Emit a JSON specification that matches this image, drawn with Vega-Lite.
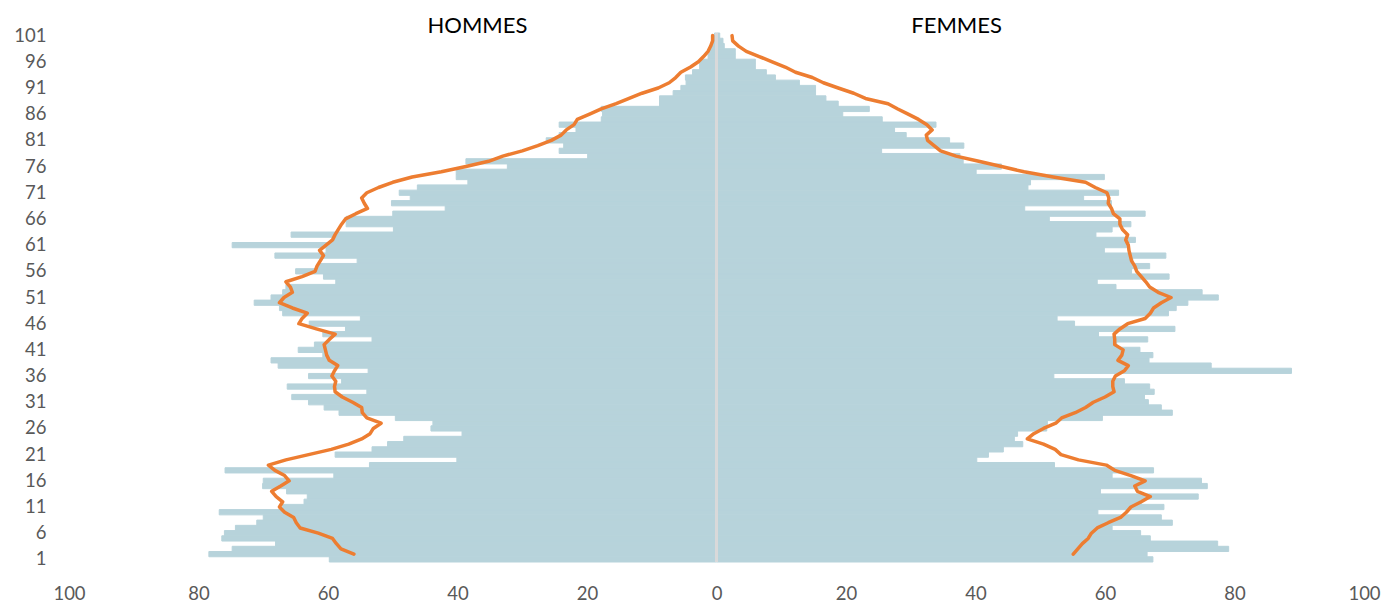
{
"$schema": "https://vega.github.io/schema/vega-lite/v6.json",
"width": 1295, "height": 529,
"autosize": {"type": "none"},
"padding": {"left": 69, "top": 33, "right": 22, "bottom": 41},
"background": "white",
"config": {"view": {"stroke": null}, "font": "Lato"},
"data": {"values": [
{"age":1,"sexe":"H","pop":-59.8,"ref":null},{"age":1,"sexe":"F","pop":67.4,"ref":null},
{"age":2,"sexe":"H","pop":-78.4,"ref":-56.0},{"age":2,"sexe":"F","pop":66.5,"ref":55.1},
{"age":3,"sexe":"H","pop":-74.8,"ref":-58.0},{"age":3,"sexe":"F","pop":79.1,"ref":55.8},
{"age":4,"sexe":"H","pop":-68.1,"ref":-58.7},{"age":4,"sexe":"F","pop":77.4,"ref":56.5},
{"age":5,"sexe":"H","pop":-76.4,"ref":-59.3},{"age":5,"sexe":"F","pop":67.0,"ref":57.4},
{"age":6,"sexe":"H","pop":-76.0,"ref":-61.5},{"age":6,"sexe":"F","pop":65.5,"ref":57.9},
{"age":7,"sexe":"H","pop":-74.3,"ref":-64.3},{"age":7,"sexe":"F","pop":61.1,"ref":58.8},
{"age":8,"sexe":"H","pop":-71.0,"ref":-64.9},{"age":8,"sexe":"F","pop":70.4,"ref":60.5},
{"age":9,"sexe":"H","pop":-70.0,"ref":-65.3},{"age":9,"sexe":"F","pop":68.7,"ref":62.4},
{"age":10,"sexe":"H","pop":-76.8,"ref":-66.7},{"age":10,"sexe":"F","pop":58.9,"ref":63.3},
{"age":11,"sexe":"H","pop":-67.0,"ref":-67.5},{"age":11,"sexe":"F","pop":69.1,"ref":64.0},
{"age":12,"sexe":"H","pop":-63.7,"ref":-67.0},{"age":12,"sexe":"F","pop":65.6,"ref":65.6},
{"age":13,"sexe":"H","pop":-63.2,"ref":-68.0},{"age":13,"sexe":"F","pop":74.4,"ref":67.0},
{"age":14,"sexe":"H","pop":-66.4,"ref":-68.7},{"age":14,"sexe":"F","pop":59.3,"ref":65.0},
{"age":15,"sexe":"H","pop":-70.1,"ref":-67.3},{"age":15,"sexe":"F","pop":75.8,"ref":64.6},
{"age":16,"sexe":"H","pop":-70.0,"ref":-66.0},{"age":16,"sexe":"F","pop":74.9,"ref":66.2},
{"age":17,"sexe":"H","pop":-59.1,"ref":-66.7},{"age":17,"sexe":"F","pop":61.1,"ref":64.0},
{"age":18,"sexe":"H","pop":-75.9,"ref":-68.2},{"age":18,"sexe":"F","pop":67.5,"ref":61.5},
{"age":19,"sexe":"H","pop":-53.6,"ref":-69.2},{"age":19,"sexe":"F","pop":52.2,"ref":60.2},
{"age":20,"sexe":"H","pop":-40.1,"ref":-66.5},{"age":20,"sexe":"F","pop":40.2,"ref":55.9},
{"age":21,"sexe":"H","pop":-58.9,"ref":-63.0},{"age":21,"sexe":"F","pop":42.0,"ref":53.2},
{"age":22,"sexe":"H","pop":-53.2,"ref":-59.5},{"age":22,"sexe":"F","pop":44.3,"ref":52.3},
{"age":23,"sexe":"H","pop":-50.8,"ref":-56.8},{"age":23,"sexe":"F","pop":47.3,"ref":50.5},
{"age":24,"sexe":"H","pop":-48.3,"ref":-54.8},{"age":24,"sexe":"F","pop":46.0,"ref":48.0},
{"age":25,"sexe":"H","pop":-39.3,"ref":-53.5},{"age":25,"sexe":"F","pop":46.5,"ref":49.0},
{"age":26,"sexe":"H","pop":-44.1,"ref":-53.0},{"age":26,"sexe":"F","pop":51.0,"ref":50.5},
{"age":27,"sexe":"H","pop":-43.8,"ref":-51.8},{"age":27,"sexe":"F","pop":51.1,"ref":52.4},
{"age":28,"sexe":"H","pop":-49.6,"ref":-54.0},{"age":28,"sexe":"F","pop":59.6,"ref":53.3},
{"age":29,"sexe":"H","pop":-58.3,"ref":-54.7},{"age":29,"sexe":"F","pop":70.4,"ref":55.4},
{"age":30,"sexe":"H","pop":-60.6,"ref":-54.8},{"age":30,"sexe":"F","pop":68.7,"ref":57.0},
{"age":31,"sexe":"H","pop":-63.0,"ref":-56.2},{"age":31,"sexe":"F","pop":66.7,"ref":58.2},
{"age":32,"sexe":"H","pop":-65.6,"ref":-57.8},{"age":32,"sexe":"F","pop":66.1,"ref":60.0},
{"age":33,"sexe":"H","pop":-54.0,"ref":-58.9},{"age":33,"sexe":"F","pop":67.6,"ref":61.4},
{"age":34,"sexe":"H","pop":-66.3,"ref":-59.0},{"age":34,"sexe":"F","pop":66.9,"ref":61.2},
{"age":35,"sexe":"H","pop":-57.9,"ref":-58.8},{"age":35,"sexe":"F","pop":63.0,"ref":61.2},
{"age":36,"sexe":"H","pop":-63.0,"ref":-59.4},{"age":36,"sexe":"F","pop":52.1,"ref":61.6},
{"age":37,"sexe":"H","pop":-53.8,"ref":-59.0},{"age":37,"sexe":"F","pop":88.8,"ref":63.0},
{"age":38,"sexe":"H","pop":-67.7,"ref":-58.5},{"age":38,"sexe":"F","pop":76.4,"ref":63.6},
{"age":39,"sexe":"H","pop":-68.8,"ref":-59.8},{"age":39,"sexe":"F","pop":66.8,"ref":62.0},
{"age":40,"sexe":"H","pop":-60.8,"ref":-60.2},{"age":40,"sexe":"F","pop":67.4,"ref":62.6},
{"age":41,"sexe":"H","pop":-64.6,"ref":-60.4},{"age":41,"sexe":"F","pop":65.4,"ref":62.8},
{"age":42,"sexe":"H","pop":-62.1,"ref":-60.6},{"age":42,"sexe":"F","pop":61.8,"ref":61.5},
{"age":43,"sexe":"H","pop":-53.2,"ref":-59.8},{"age":43,"sexe":"F","pop":66.6,"ref":61.5},
{"age":44,"sexe":"H","pop":-60.8,"ref":-58.9},{"age":44,"sexe":"F","pop":59.0,"ref":61.4},
{"age":45,"sexe":"H","pop":-57.3,"ref":-61.8},{"age":45,"sexe":"F","pop":70.8,"ref":62.3},
{"age":46,"sexe":"H","pop":-62.9,"ref":-64.5},{"age":46,"sexe":"F","pop":55.3,"ref":63.5},
{"age":47,"sexe":"H","pop":-55.0,"ref":-64.0},{"age":47,"sexe":"F","pop":52.6,"ref":66.2},
{"age":48,"sexe":"H","pop":-67.0,"ref":-63.2},{"age":48,"sexe":"F","pop":69.8,"ref":67.0},
{"age":49,"sexe":"H","pop":-67.5,"ref":-65.5},{"age":49,"sexe":"F","pop":71.0,"ref":67.5},
{"age":50,"sexe":"H","pop":-71.4,"ref":-67.5},{"age":50,"sexe":"F","pop":72.8,"ref":68.7},
{"age":51,"sexe":"H","pop":-68.8,"ref":-66.8},{"age":51,"sexe":"F","pop":77.5,"ref":70.2},
{"age":52,"sexe":"H","pop":-67.0,"ref":-65.5},{"age":52,"sexe":"F","pop":75.0,"ref":68.2},
{"age":53,"sexe":"H","pop":-66.5,"ref":-65.8},{"age":53,"sexe":"F","pop":61.7,"ref":66.9},
{"age":54,"sexe":"H","pop":-58.8,"ref":-66.5},{"age":54,"sexe":"F","pop":58.8,"ref":66.3},
{"age":55,"sexe":"H","pop":-60.7,"ref":-64.0},{"age":55,"sexe":"F","pop":69.9,"ref":65.6},
{"age":56,"sexe":"H","pop":-65.0,"ref":-62.0},{"age":56,"sexe":"F","pop":64.1,"ref":64.9},
{"age":57,"sexe":"H","pop":-61.6,"ref":-61.7},{"age":57,"sexe":"F","pop":66.9,"ref":64.6},
{"age":58,"sexe":"H","pop":-55.5,"ref":-61.2},{"age":58,"sexe":"F","pop":64.3,"ref":64.1},
{"age":59,"sexe":"H","pop":-68.2,"ref":-60.7},{"age":59,"sexe":"F","pop":69.4,"ref":63.9},
{"age":60,"sexe":"H","pop":-60.3,"ref":-61.3},{"age":60,"sexe":"F","pop":59.9,"ref":63.7},
{"age":61,"sexe":"H","pop":-74.8,"ref":-60.3},{"age":61,"sexe":"F","pop":63.3,"ref":63.6},
{"age":62,"sexe":"H","pop":-59.3,"ref":-59.3},{"age":62,"sexe":"F","pop":64.7,"ref":63.2},
{"age":63,"sexe":"H","pop":-65.7,"ref":-58.9},{"age":63,"sexe":"F","pop":58.6,"ref":63.5},
{"age":64,"sexe":"H","pop":-49.9,"ref":-58.4},{"age":64,"sexe":"F","pop":61.1,"ref":62.7},
{"age":65,"sexe":"H","pop":-57.2,"ref":-57.9},{"age":65,"sexe":"F","pop":64.0,"ref":62.3},
{"age":66,"sexe":"H","pop":-57.2,"ref":-57.3},{"age":66,"sexe":"F","pop":51.4,"ref":62.3},
{"age":67,"sexe":"H","pop":-50.0,"ref":-55.7},{"age":67,"sexe":"F","pop":66.2,"ref":61.3},
{"age":68,"sexe":"H","pop":-41.9,"ref":-53.9},{"age":68,"sexe":"F","pop":47.6,"ref":61.0},
{"age":69,"sexe":"H","pop":-50.2,"ref":-54.4},{"age":69,"sexe":"F","pop":61.0,"ref":60.5},
{"age":70,"sexe":"H","pop":-47.3,"ref":-54.8},{"age":70,"sexe":"F","pop":56.7,"ref":60.6},
{"age":71,"sexe":"H","pop":-49.0,"ref":-54.0},{"age":71,"sexe":"F","pop":62.1,"ref":60.3},
{"age":72,"sexe":"H","pop":-46.2,"ref":-52.2},{"age":72,"sexe":"F","pop":48.1,"ref":58.5},
{"age":73,"sexe":"H","pop":-38.4,"ref":-50.0},{"age":73,"sexe":"F","pop":48.5,"ref":57.0},
{"age":74,"sexe":"H","pop":-40.2,"ref":-47.0},{"age":74,"sexe":"F","pop":59.9,"ref":52.0},
{"age":75,"sexe":"H","pop":-40.2,"ref":-42.5},{"age":75,"sexe":"F","pop":40.1,"ref":47.5},
{"age":76,"sexe":"H","pop":-32.3,"ref":-38.7},{"age":76,"sexe":"F","pop":44.0,"ref":44.0},
{"age":77,"sexe":"H","pop":-38.7,"ref":-35.2},{"age":77,"sexe":"F","pop":38.1,"ref":40.5},
{"age":78,"sexe":"H","pop":-19.9,"ref":-33.0},{"age":78,"sexe":"F","pop":37.6,"ref":37.0},
{"age":79,"sexe":"H","pop":-24.3,"ref":-30.0},{"age":79,"sexe":"F","pop":25.5,"ref":34.6},
{"age":80,"sexe":"H","pop":-23.6,"ref":-27.6},{"age":80,"sexe":"F","pop":38.2,"ref":33.6},
{"age":81,"sexe":"H","pop":-26.3,"ref":-25.5},{"age":81,"sexe":"F","pop":36.0,"ref":32.6},
{"age":82,"sexe":"H","pop":-24.3,"ref":-24.0},{"age":82,"sexe":"F","pop":29.3,"ref":32.4},
{"age":83,"sexe":"H","pop":-21.7,"ref":-23.2},{"age":83,"sexe":"F","pop":27.5,"ref":33.3},
{"age":84,"sexe":"H","pop":-24.3,"ref":-22.0},{"age":84,"sexe":"F","pop":33.9,"ref":32.5},
{"age":85,"sexe":"H","pop":-17.8,"ref":-21.5},{"age":85,"sexe":"F","pop":25.6,"ref":31.2},
{"age":86,"sexe":"H","pop":-17.6,"ref":-19.6},{"age":86,"sexe":"F","pop":19.5,"ref":29.6},
{"age":87,"sexe":"H","pop":-17.8,"ref":-17.8},{"age":87,"sexe":"F","pop":23.6,"ref":28.0},
{"age":88,"sexe":"H","pop":-8.8,"ref":-15.5},{"age":88,"sexe":"F","pop":18.8,"ref":26.5},
{"age":89,"sexe":"H","pop":-8.8,"ref":-13.5},{"age":89,"sexe":"F","pop":16.9,"ref":23.0},
{"age":90,"sexe":"H","pop":-6.7,"ref":-11.5},{"age":90,"sexe":"F","pop":15.3,"ref":21.2},
{"age":91,"sexe":"H","pop":-5.5,"ref":-9.0},{"age":91,"sexe":"F","pop":15.3,"ref":18.8},
{"age":92,"sexe":"H","pop":-4.7,"ref":-7.3},{"age":92,"sexe":"F","pop":12.8,"ref":16.5},
{"age":93,"sexe":"H","pop":-4.8,"ref":-6.3},{"age":93,"sexe":"F","pop":9.1,"ref":14.8},
{"age":94,"sexe":"H","pop":-3.7,"ref":-5.5},{"age":94,"sexe":"F","pop":7.7,"ref":12.2},
{"age":95,"sexe":"H","pop":-2.6,"ref":-4.0},{"age":95,"sexe":"F","pop":6.0,"ref":10.6},
{"age":96,"sexe":"H","pop":-2.6,"ref":-2.8},{"age":96,"sexe":"F","pop":6.0,"ref":8.6},
{"age":97,"sexe":"H","pop":-1.3,"ref":-2.0},{"age":97,"sexe":"F","pop":2.9,"ref":6.6},
{"age":98,"sexe":"H","pop":-1.1,"ref":-1.3},{"age":98,"sexe":"F","pop":2.9,"ref":4.6},
{"age":99,"sexe":"H","pop":-0.8,"ref":-0.9},{"age":99,"sexe":"F","pop":1.2,"ref":3.4},
{"age":100,"sexe":"H","pop":-0.5,"ref":-0.6},{"age":100,"sexe":"F","pop":1.0,"ref":2.5},
{"age":101,"sexe":"H","pop":-0.3,"ref":-0.6},{"age":101,"sexe":"F","pop":0.5,"ref":2.4}
]},
"resolve": {"axis": {"x": "independent"}},
"layer": [
{"mark": {"type": "bar", "color": "#b7d3db", "stroke": "#b7d3db", "strokeWidth": 1},
 "encoding": {
  "y": {"field": "age", "type": "ordinal", "sort": "descending", "scale": {"paddingInner": 0, "paddingOuter": 0},
        "axis": {"values": [1,6,11,16,21,26,31,36,41,46,51,56,61,66,71,76,81,86,91,96,101], "title": null, "domain": false, "ticks": false, "labelFontSize": 18.5, "labelColor": "#595959", "labelPadding": 23}},
  "x": {"field": "pop", "type": "quantitative", "scale": {"domain": [-100, 100]},
        "axis": {"orient": "bottom", "values": [-100,-80,-60,-40,-20,0,20,40,60,80,100], "labelExpr": "format(abs(datum.value), 'd')", "labelFlush": false, "grid": false, "ticks": false, "domain": false, "labelFontSize": 18.5, "labelColor": "#595959", "labelPadding": 22, "title": null}}
 }},
{"mark": {"type": "rule", "color": "#d9d9d9", "strokeWidth": 2},
 "encoding": {
  "x": {"datum": 0, "type": "quantitative",
        "axis": {"orient": "top", "values": [-37, 37], "labelExpr": "datum.value < 0 ? 'HOMMES' : 'FEMMES'", "labelFlush": false, "labelBaseline": "alphabetic", "grid": false, "ticks": false, "domain": false, "labelFontSize": 22, "labelColor": "#000000", "labelPadding": 1, "title": null}}
 }},
{"mark": {"type": "line", "color": "#ed7d31", "strokeWidth": 3.5, "strokeCap": "round", "strokeJoin": "round"},
 "encoding": {
  "y": {"field": "age", "type": "ordinal", "sort": "descending", "scale": {"paddingInner": 0, "paddingOuter": 0},
        "axis": {"values": [1,6,11,16,21,26,31,36,41,46,51,56,61,66,71,76,81,86,91,96,101], "title": null, "domain": false, "ticks": false, "labelFontSize": 18.5, "labelColor": "#595959", "labelPadding": 23}},
  "x": {"field": "ref", "type": "quantitative", "axis": null},
  "detail": {"field": "sexe", "type": "nominal"},
  "order": {"field": "age", "type": "quantitative"}
 }}
]
}
